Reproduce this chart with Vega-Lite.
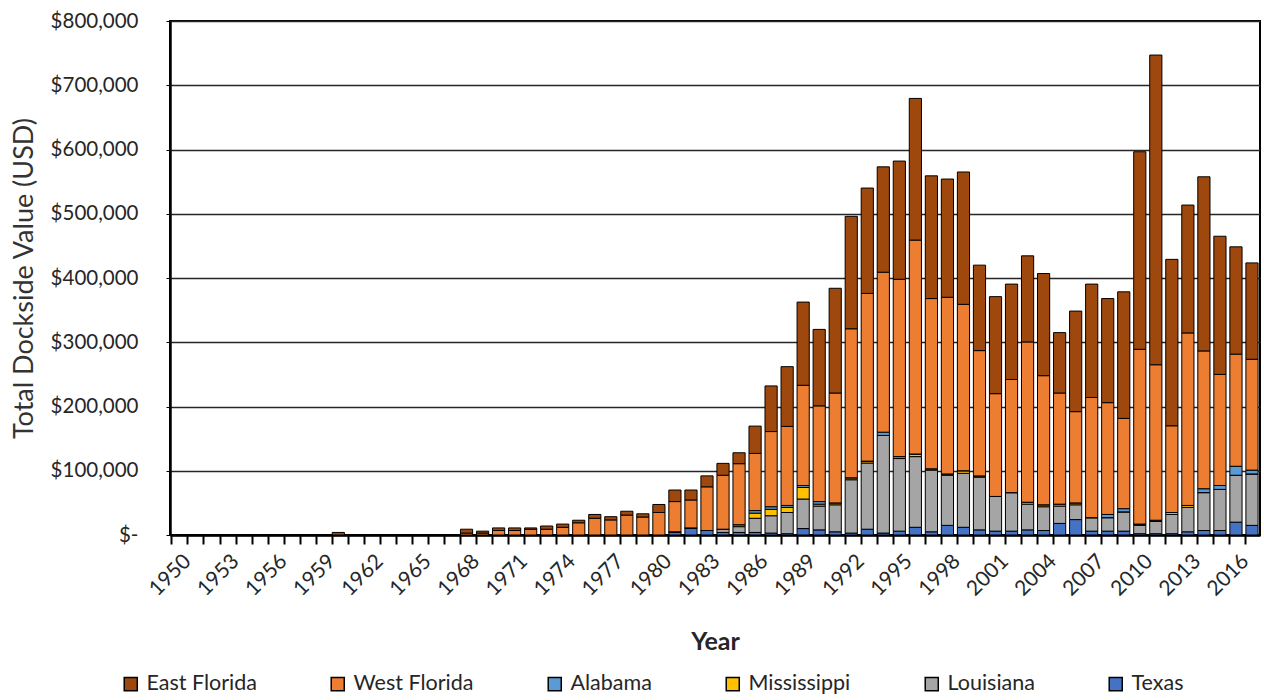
{
  "$schema": "https://vega.github.io/schema/vega-lite/v6.json",
  "width": 1090,
  "height": 514,
  "autosize": {"type": "none"},
  "padding": {"left": 170, "top": 21, "right": 4, "bottom": 165},
  "background": "white",
  "config": {"view": {"stroke": "black", "strokeWidth": 2}, "font": "Lato"},
  "data": {"values": [
    {"Year": 1950, "East Florida": 0, "West Florida": 0, "Alabama": 0, "Mississippi": 0, "Louisiana": 0, "Texas": 0},
    {"Year": 1951, "East Florida": 0, "West Florida": 0, "Alabama": 0, "Mississippi": 0, "Louisiana": 0, "Texas": 0},
    {"Year": 1952, "East Florida": 0, "West Florida": 0, "Alabama": 0, "Mississippi": 0, "Louisiana": 0, "Texas": 0},
    {"Year": 1953, "East Florida": 0, "West Florida": 0, "Alabama": 0, "Mississippi": 0, "Louisiana": 0, "Texas": 0},
    {"Year": 1954, "East Florida": 0, "West Florida": 0, "Alabama": 0, "Mississippi": 0, "Louisiana": 0, "Texas": 0},
    {"Year": 1955, "East Florida": 0, "West Florida": 0, "Alabama": 0, "Mississippi": 0, "Louisiana": 0, "Texas": 0},
    {"Year": 1956, "East Florida": 0, "West Florida": 0, "Alabama": 0, "Mississippi": 0, "Louisiana": 0, "Texas": 0},
    {"Year": 1957, "East Florida": 0, "West Florida": 0, "Alabama": 0, "Mississippi": 0, "Louisiana": 0, "Texas": 0},
    {"Year": 1958, "East Florida": 0, "West Florida": 0, "Alabama": 0, "Mississippi": 0, "Louisiana": 0, "Texas": 0},
    {"Year": 1959, "East Florida": 0, "West Florida": 0, "Alabama": 0, "Mississippi": 0, "Louisiana": 0, "Texas": 0},
    {"Year": 1960, "East Florida": 4000, "West Florida": 0, "Alabama": 0, "Mississippi": 0, "Louisiana": 0, "Texas": 0},
    {"Year": 1961, "East Florida": 0, "West Florida": 0, "Alabama": 0, "Mississippi": 0, "Louisiana": 0, "Texas": 0},
    {"Year": 1962, "East Florida": 0, "West Florida": 0, "Alabama": 0, "Mississippi": 0, "Louisiana": 0, "Texas": 0},
    {"Year": 1963, "East Florida": 0, "West Florida": 0, "Alabama": 0, "Mississippi": 0, "Louisiana": 0, "Texas": 0},
    {"Year": 1964, "East Florida": 0, "West Florida": 0, "Alabama": 0, "Mississippi": 0, "Louisiana": 0, "Texas": 0},
    {"Year": 1965, "East Florida": 0, "West Florida": 0, "Alabama": 0, "Mississippi": 0, "Louisiana": 0, "Texas": 0},
    {"Year": 1966, "East Florida": 0, "West Florida": 0, "Alabama": 0, "Mississippi": 0, "Louisiana": 0, "Texas": 0},
    {"Year": 1967, "East Florida": 0, "West Florida": 0, "Alabama": 0, "Mississippi": 0, "Louisiana": 0, "Texas": 0},
    {"Year": 1968, "East Florida": 6000, "West Florida": 3000, "Alabama": 0, "Mississippi": 0, "Louisiana": 0, "Texas": 0},
    {"Year": 1969, "East Florida": 3000, "West Florida": 3000, "Alabama": 0, "Mississippi": 0, "Louisiana": 0, "Texas": 0},
    {"Year": 1970, "East Florida": 4000, "West Florida": 7000, "Alabama": 0, "Mississippi": 0, "Louisiana": 0, "Texas": 0},
    {"Year": 1971, "East Florida": 4000, "West Florida": 7000, "Alabama": 0, "Mississippi": 0, "Louisiana": 0, "Texas": 0},
    {"Year": 1972, "East Florida": 2000, "West Florida": 9000, "Alabama": 0, "Mississippi": 0, "Louisiana": 0, "Texas": 0},
    {"Year": 1973, "East Florida": 5000, "West Florida": 9000, "Alabama": 0, "Mississippi": 0, "Louisiana": 0, "Texas": 0},
    {"Year": 1974, "East Florida": 5000, "West Florida": 12000, "Alabama": 0, "Mississippi": 0, "Louisiana": 0, "Texas": 0},
    {"Year": 1975, "East Florida": 4000, "West Florida": 19000, "Alabama": 0, "Mississippi": 0, "Louisiana": 0, "Texas": 0},
    {"Year": 1976, "East Florida": 6000, "West Florida": 26000, "Alabama": 0, "Mississippi": 0, "Louisiana": 0, "Texas": 0},
    {"Year": 1977, "East Florida": 5000, "West Florida": 23500, "Alabama": 0, "Mississippi": 0, "Louisiana": 0, "Texas": 0},
    {"Year": 1978, "East Florida": 6000, "West Florida": 31000, "Alabama": 0, "Mississippi": 0, "Louisiana": 0, "Texas": 0},
    {"Year": 1979, "East Florida": 5000, "West Florida": 28000, "Alabama": 0, "Mississippi": 0, "Louisiana": 0, "Texas": 0},
    {"Year": 1980, "East Florida": 12500, "West Florida": 35000, "Alabama": 0, "Mississippi": 0, "Louisiana": 0, "Texas": 0},
    {"Year": 1981, "East Florida": 18000, "West Florida": 47000, "Alabama": 0, "Mississippi": 0, "Louisiana": 0, "Texas": 5000},
    {"Year": 1982, "East Florida": 15500, "West Florida": 43500, "Alabama": 0, "Mississippi": 0, "Louisiana": 0, "Texas": 11000},
    {"Year": 1983, "East Florida": 17000, "West Florida": 68000, "Alabama": 0, "Mississippi": 0, "Louisiana": 0, "Texas": 7000},
    {"Year": 1984, "East Florida": 18500, "West Florida": 84000, "Alabama": 0, "Mississippi": 0, "Louisiana": 5000, "Texas": 4000},
    {"Year": 1985, "East Florida": 17000, "West Florida": 95000, "Alabama": 0, "Mississippi": 3000, "Louisiana": 9000, "Texas": 4000},
    {"Year": 1986, "East Florida": 42500, "West Florida": 89000, "Alabama": 4000, "Mississippi": 8000, "Louisiana": 22000, "Texas": 4000},
    {"Year": 1987, "East Florida": 71000, "West Florida": 117000, "Alabama": 4000, "Mississippi": 10000, "Louisiana": 27000, "Texas": 3000},
    {"Year": 1988, "East Florida": 93000, "West Florida": 123000, "Alabama": 3000, "Mississippi": 8000, "Louisiana": 33000, "Texas": 2000},
    {"Year": 1989, "East Florida": 129500, "West Florida": 156000, "Alabama": 3000, "Mississippi": 18000, "Louisiana": 46000, "Texas": 10000},
    {"Year": 1990, "East Florida": 119000, "West Florida": 149000, "Alabama": 4000, "Mississippi": 3000, "Louisiana": 37000, "Texas": 8000},
    {"Year": 1991, "East Florida": 163000, "West Florida": 171000, "Alabama": 0, "Mississippi": 3000, "Louisiana": 42000, "Texas": 5000},
    {"Year": 1992, "East Florida": 175000, "West Florida": 232000, "Alabama": 0, "Mississippi": 3000, "Louisiana": 83000, "Texas": 3000},
    {"Year": 1993, "East Florida": 164000, "West Florida": 261000, "Alabama": 0, "Mississippi": 3000, "Louisiana": 103000, "Texas": 9000},
    {"Year": 1994, "East Florida": 164000, "West Florida": 249000, "Alabama": 5000, "Mississippi": 0, "Louisiana": 152000, "Texas": 3000},
    {"Year": 1995, "East Florida": 184000, "West Florida": 276000, "Alabama": 0, "Mississippi": 3000, "Louisiana": 113000, "Texas": 6000},
    {"Year": 1996, "East Florida": 220500, "West Florida": 333000, "Alabama": 0, "Mississippi": 4000, "Louisiana": 110000, "Texas": 12000},
    {"Year": 1997, "East Florida": 191000, "West Florida": 265000, "Alabama": 0, "Mississippi": 2000, "Louisiana": 96000, "Texas": 5000},
    {"Year": 1998, "East Florida": 184000, "West Florida": 275000, "Alabama": 0, "Mississippi": 2000, "Louisiana": 78000, "Texas": 15000},
    {"Year": 1999, "East Florida": 206000, "West Florida": 259000, "Alabama": 0, "Mississippi": 4000, "Louisiana": 84000, "Texas": 12000},
    {"Year": 2000, "East Florida": 133000, "West Florida": 195000, "Alabama": 0, "Mississippi": 2000, "Louisiana": 82000, "Texas": 8000},
    {"Year": 2001, "East Florida": 151000, "West Florida": 160000, "Alabama": 0, "Mississippi": 0, "Louisiana": 54000, "Texas": 6000},
    {"Year": 2002, "East Florida": 148500, "West Florida": 176000, "Alabama": 0, "Mississippi": 0, "Louisiana": 60000, "Texas": 6000},
    {"Year": 2003, "East Florida": 134000, "West Florida": 249500, "Alabama": 0, "Mississippi": 3000, "Louisiana": 40000, "Texas": 8000},
    {"Year": 2004, "East Florida": 159000, "West Florida": 201000, "Alabama": 0, "Mississippi": 3000, "Louisiana": 37000, "Texas": 7000},
    {"Year": 2005, "East Florida": 94000, "West Florida": 173000, "Alabama": 0, "Mississippi": 3000, "Louisiana": 27000, "Texas": 18000},
    {"Year": 2006, "East Florida": 156500, "West Florida": 142000, "Alabama": 0, "Mississippi": 3000, "Louisiana": 23000, "Texas": 24000},
    {"Year": 2007, "East Florida": 176500, "West Florida": 187000, "Alabama": 0, "Mississippi": 0, "Louisiana": 21000, "Texas": 6000},
    {"Year": 2008, "East Florida": 162000, "West Florida": 174000, "Alabama": 5000, "Mississippi": 0, "Louisiana": 21000, "Texas": 6000},
    {"Year": 2009, "East Florida": 197000, "West Florida": 140500, "Alabama": 5000, "Mississippi": 0, "Louisiana": 30000, "Texas": 6000},
    {"Year": 2010, "East Florida": 307500, "West Florida": 272000, "Alabama": 0, "Mississippi": 2000, "Louisiana": 13000, "Texas": 2000},
    {"Year": 2011, "East Florida": 482000, "West Florida": 242000, "Alabama": 0, "Mississippi": 2000, "Louisiana": 19000, "Texas": 2000},
    {"Year": 2012, "East Florida": 259000, "West Florida": 135000, "Alabama": 0, "Mississippi": 3000, "Louisiana": 30000, "Texas": 2000},
    {"Year": 2013, "East Florida": 199000, "West Florida": 268500, "Alabama": 0, "Mississippi": 3000, "Louisiana": 38000, "Texas": 5000},
    {"Year": 2014, "East Florida": 271000, "West Florida": 214500, "Alabama": 6000, "Mississippi": 0, "Louisiana": 59000, "Texas": 7000},
    {"Year": 2015, "East Florida": 215000, "West Florida": 173000, "Alabama": 6000, "Mississippi": 0, "Louisiana": 64000, "Texas": 7000},
    {"Year": 2016, "East Florida": 167000, "West Florida": 174500, "Alabama": 14000, "Mississippi": 0, "Louisiana": 73000, "Texas": 20000},
    {"Year": 2017, "East Florida": 150000, "West Florida": 172500, "Alabama": 6000, "Mississippi": 0, "Louisiana": 80000, "Texas": 15000}
  ]},
  "transform": [
    {"fold": ["Texas", "Louisiana", "Mississippi", "Alabama", "West Florida", "East Florida"], "as": ["Region", "Value"]},
    {"window": [{"op": "row_number", "as": "stackRank"}], "groupby": ["Year"]}
  ],
  "mark": {"type": "bar", "stroke": "black", "strokeWidth": 1},
  "encoding": {
    "x": {
      "field": "Year",
      "type": "ordinal",
      "scale": {"paddingInner": 0.24, "paddingOuter": 0.12},
      "axis": {
        "title": "Year",
        "titleFontSize": 25,
        "titleFontWeight": "bold",
        "titleColor": "#262626",
        "titlePadding": 30,
        "labelAngle": -45,
        "labelFontSize": 21,
        "labelColor": "#262626",
        "labelExpr": "(datum.value - 1950) % 3 == 0 ? datum.label : ''",
        "labelOverlap": false,
        "bandPosition": 0,
        "labelOffset": 2,
        "labelPadding": 6,
        "tickSize": 9,
        "tickWidth": 2,
        "tickColor": "black",
        "domainColor": "black",
        "domainWidth": 2.5,
        "grid": false
      }
    },
    "y": {
      "field": "Value",
      "type": "quantitative",
      "stack": "zero",
      "scale": {"domain": [0, 800000], "nice": false},
      "axis": {
        "title": "Total Dockside Value (USD)",
        "titleFontSize": 27,
        "titleFontWeight": "normal",
        "titleColor": "#333333",
        "titlePadding": 12,
        "values": [0, 100000, 200000, 300000, 400000, 500000, 600000, 700000, 800000],
        "labelExpr": "datum.value == 0 ? '$-\u00a0\u00a0' : '$' + format(datum.value, ',')",
        "labelFontSize": 20.5,
        "labelColor": "#262626",
        "labelPadding": 28,
        "tickSize": 4,
        "tickColor": "black",
        "domainColor": "black",
        "domainWidth": 2.5,
        "gridColor": "#262626",
        "gridWidth": 1.3
      }
    },
    "order": {"field": "stackRank", "type": "quantitative", "sort": "ascending"},
    "color": {
      "field": "Region",
      "type": "nominal",
      "sort": ["East Florida", "West Florida", "Alabama", "Mississippi", "Louisiana", "Texas"],
      "scale": {
        "domain": ["East Florida", "West Florida", "Alabama", "Mississippi", "Louisiana", "Texas"],
        "range": ["#9E480E", "#ED7D31", "#5B9BD5", "#FFC000", "#A5A5A5", "#4472C4"]
      },
      "legend": {
        "orient": "none",
        "legendX": -50,
        "legendY": 652,
        "direction": "horizontal",
        "title": null,
        "symbolType": "square",
        "symbolSize": 170,
        "symbolStrokeColor": "black",
        "symbolStrokeWidth": 1.5,
        "symbolOpacity": 1,
        "labelFontSize": 21.5,
        "labelColor": "#262626",
        "labelOffset": 5,
        "columnPadding": 70
      }
    }
  }
}
